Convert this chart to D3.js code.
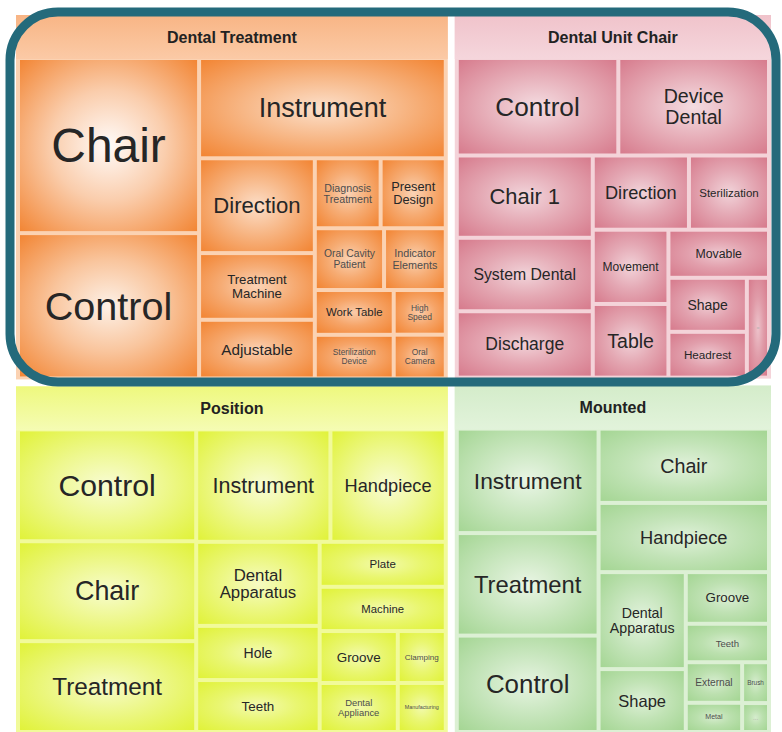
<!DOCTYPE html>
<html><head><meta charset="utf-8">
<script src="https://cdn.jsdelivr.net/npm/d3@7"></script>
<style>body{margin:0;background:#fff}svg{display:block}</style>
</head><body>
<svg id="chart" width="782" height="732"></svg>
<script>
// ---------- data ----------
const groupNames = ["Dental Treatment", "Position", "Dental Unit Chair", "Mounted"];

const dentalTreatmentLabels = ["Chair","Control","Instrument","Direction","Treatment\nMachine","Adjustable",
  "Diagnosis\nTreatment","Present\nDesign","Oral Cavity\nPatient","Indicator\nElements","Work Table",
  "Sterilization\nDevice","High\nSpeed","Oral\nCamera"];
const dentalTreatmentValues = [682,566,532,236,166,146,99,98,92,82,76,74,50,49];

const positionLabels = ["Control","Chair","Treatment","Instrument","Handpiece","Dental\nApparatus","Hole","Teeth",
  "Plate","Machine","Groove","Dental\nAppliance","Clamping","Manufacturing"];
const positionValues = [432,386,351,327,281,225,145,139,123,121,88,83,54,51];

const dentalUnitChairLabels = ["Control","Device\nDental","Chair 1","System Dental","Discharge","Direction",
  "Sterilization","Movement","Table","Movable","Shape","Headrest","="];
const dentalUnitChairValues = [342,319,243,217,196,155,129,122,121,105,92,78,48];

const mountedLabels = ["Instrument","Treatment","Control","Chair","Handpiece","Dental\nApparatus","Shape",
  "Groove","Teeth","External","Metal","Brush","..."];
const mountedValues = [324,318,299,277,258,185,120,94,70,50,36,24,17];

const groupLabels = [dentalTreatmentLabels, positionLabels, dentalUnitChairLabels, mountedLabels];
const groupValues = [dentalTreatmentValues, positionValues, dentalUnitChairValues, mountedValues];

// ---------- styles ----------
const styles = {
  "Dental Treatment":  {edge:"#f28330", panel:"#fbd2b2", head1:"#f8b585", head2:"#fbcaa6"},
  "Dental Unit Chair": {edge:"#d6798b", panel:"#f4d3d9", head1:"#f0c3cb", head2:"#f5d6dc"},
  "Position":          {edge:"#e0f236", panel:"#f1fa9a", head1:"#eef87e", head2:"#f5fcb4"},
  "Mounted":           {edge:"#a3d592", panel:"#dcf0d4", head1:"#d4ecca", head2:"#e2f3db"}
};
const FONT = '"Liberation Sans", Arial, Helvetica, sans-serif';

// squarified tiling that aims for landscape cells (width/height ≈ target)
function landscapeSquarify(target) {
  return function(parent, x0, y0, x1, y1) {
    const nodes = parent.children, n = nodes.length;
    let i0 = 0, value = parent.value;
    while (i0 < n) {
      const dx = x1 - x0, dy = y1 - y0;
      const across = dx <= dy;               // strip runs across the width
      const side = across ? dx : dy;
      const apv = value ? dx * dy / value : 0;
      let best = Infinity, sum = 0, i1 = i0;
      while (i1 < n) {
        const s2 = sum + nodes[i1].value;
        const thick = s2 * apv / side;
        let worst = 0;
        for (let k = i0; k <= i1; k++) {
          const len = nodes[k].value * apv / thick;
          const wh = across ? len / thick : thick / len;
          worst = Math.max(worst, wh / target, target / wh);
        }
        if (worst > best && i1 > i0) break;
        best = worst; sum = s2; i1++;
      }
      const row = {value: sum, children: nodes.slice(i0, i1)};
      if (across) {
        const yy = value ? y0 + dy * sum / value : y1;
        d3.treemapDice(row, x0, y0, x1, yy); y0 = yy;
      } else {
        const xx = value ? x0 + dx * sum / value : x1;
        d3.treemapSlice(row, x0, y0, xx, y1); x0 = xx;
      }
      value -= sum; i0 = i1;
    }
  };
}

// ---------- layout ----------
const W = 755, H = 718, OX = 16, OY = 15;
const data = {name: "root", children: groupNames.map((g, i) => ({
  name: g,
  children: groupLabels[i].map((l, j) => ({name: l, value: groupValues[i][j]}))
}))};

const root = d3.hierarchy(data).sum(d => d.value || 0).sort((a, b) => b.value - a.value);
d3.treemap()
  .tile(landscapeSquarify(1.43))
  .size([W, H])
  .paddingInner(d => d.depth === 0 ? 7 : 4)
  .paddingTop(d => d.depth === 1 ? 45 : 0)
  .paddingLeft(d => d.depth === 1 ? 4 : 0)
  .paddingRight(d => d.depth === 1 ? 4 : 0)
  .paddingBottom(d => d.depth === 1 ? 3 : 0)
  (root);

const svg = d3.select("#chart");
const defs = svg.append("defs");
const g = svg.append("g").attr("transform", `translate(${OX},${OY})`);

const ctx = document.createElement("canvas").getContext("2d");
function em(s){ ctx.font = `100px ${FONT}`; return ctx.measureText(s).width / 100; }

// panels
const panels = g.selectAll("g.panel").data(root.children).join("g").attr("class","panel");
panels.each(function(d, i){
  const st = styles[d.data.name];
  const gid = "head" + i;
  const lg = defs.append("linearGradient").attr("id", gid).attr("x1",0).attr("y1",0).attr("x2",0).attr("y2",1);
  lg.append("stop").attr("offset","0%").attr("stop-color", st.head1);
  lg.append("stop").attr("offset","100%").attr("stop-color", st.head2);
  const p = d3.select(this);
  p.append("rect").attr("x", d.x0).attr("y", d.y0).attr("width", d.x1-d.x0).attr("height", d.y1-d.y0)
    .attr("fill", st.panel);
  p.append("rect").attr("x", d.x0).attr("y", d.y0).attr("width", d.x1-d.x0).attr("height", 44)
    .attr("fill", `url(#${gid})`);
  p.append("text").attr("x", (d.x0+d.x1)/2).attr("y", d.y0 + 22)
    .attr("text-anchor","middle").attr("dominant-baseline","central")
    .attr("font-family", FONT).attr("font-weight","bold").attr("font-size", 16).attr("fill","#222")
    .text(d.data.name);
});

// leaves
const leaves = root.leaves();
const cells = g.selectAll("g.cell").data(leaves).join("g").attr("class","cell");
cells.each(function(d, i){
  const st = styles[d.parent.data.name];
  const w = d.x1 - d.x0, h = d.y1 - d.y0;
  const m = Math.min(w, h);
  const t = Math.max(0, Math.min(1, (m - 30) / 140));
  const center = d3.interpolateRgb(st.edge, "#ffffff")(0.55 + 0.42 * t);
  const mid = d3.interpolateRgb(st.edge, "#ffffff")(0.25 + 0.35 * t);
  const gid = "cg" + i;
  const rg = defs.append("radialGradient").attr("id", gid).attr("cx","50%").attr("cy","50%").attr("r","72%");
  rg.append("stop").attr("offset","0%").attr("stop-color", center);
  rg.append("stop").attr("offset","45%").attr("stop-color", mid);
  rg.append("stop").attr("offset","100%").attr("stop-color", st.edge);
  const c = d3.select(this);
  c.append("rect").attr("x", d.x0).attr("y", d.y0).attr("width", w).attr("height", h)
    .attr("fill", `url(#${gid})`);
  const lines = d.data.name.split("\n");
  const k = lines.length > 1 ? 0.21 : 0.28;
  const emMax = d3.max(lines, em);
  const fs = Math.min(k * m, 0.78 * w / emMax, 0.8 * h / (lines.length * 1.05));
  const lh = fs * 1.05;
  const cx = (d.x0 + d.x1) / 2, cy = (d.y0 + d.y1) / 2;
  const faint = d.data.name === "=" || d.data.name === "...";
  const col = faint ? "#b8b0b0" : (fs < 11 ? "#4d4d4d" : "#262626");
  const txt = c.append("text").attr("text-anchor","middle").attr("font-family", FONT)
    .attr("font-size", fs.toFixed(1)).attr("fill", col);
  lines.forEach((ln, j) => {
    txt.append("tspan").attr("x", cx)
      .attr("y", cy + (j - (lines.length - 1) / 2) * lh)
      .attr("dominant-baseline","central").text(ln);
  });
});

// highlight frame around the top row
svg.append("rect").attr("x", 10).attr("y", 12).attr("width", 766).attr("height", 370)
  .attr("rx", 48).attr("ry", 48).attr("fill","none").attr("stroke","#246a7b").attr("stroke-width", 9);
</script>
</body></html>
